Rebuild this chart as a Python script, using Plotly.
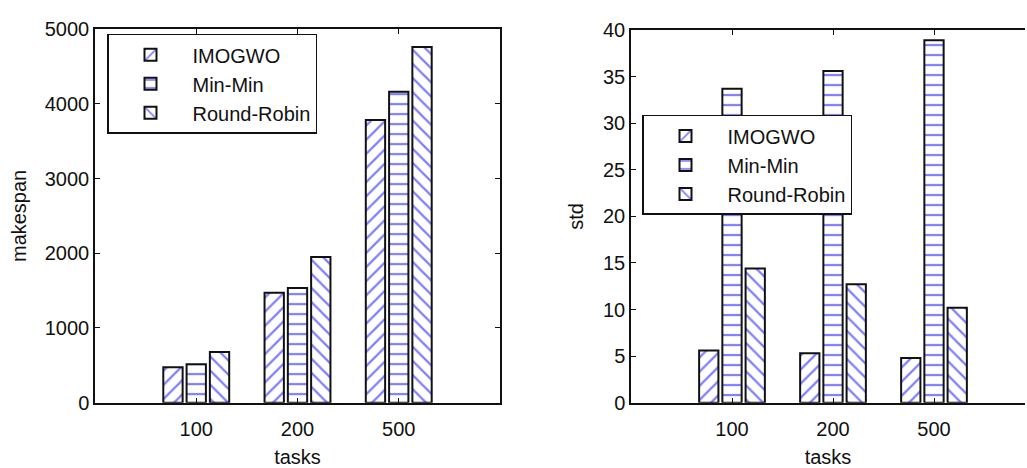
import plotly.graph_objects as go

tasks = ["100", "200", "500"]
series = ["IMOGWO", "Min-Min", "Round-Robin"]
makespan_imogwo = [475, 1470, 3785]
makespan_minmin = [515, 1535, 4160]
makespan_rr = [680, 1950, 4760]
std_imogwo = [5.6, 5.3, 4.8]
std_minmin = [33.7, 35.6, 38.9]
std_rr = [14.4, 12.7, 10.2]
makespan_ticks = [0, 1000, 2000, 3000, 4000, 5000]
std_ticks = [0, 5, 10, 15, 20, 25, 30, 35, 40]

shapes = ["/", "-", "\\"]
FONT = "Liberation Sans, Arial, sans-serif"
FS = 20
TXT = "#111"
xpos = [1, 2, 3]

fig = go.Figure()
left_vals = [makespan_imogwo, makespan_minmin, makespan_rr]
right_vals = [std_imogwo, std_minmin, std_rr]


def pattern(i):
    return dict(shape=shapes[i], fgcolor="#0000ff", bgcolor="white",
                size=10, solidity=0.22, fillmode="overlay")


for i, name in enumerate(series):
    fig.add_trace(go.Bar(x=xpos, y=left_vals[i], name=name, xaxis="x", yaxis="y",
                         marker=dict(color="white", line=dict(color="#111", width=2), pattern=pattern(i)),
                         legend="legend", legendgroup="L" + str(i)))
for i, name in enumerate(series):
    fig.add_trace(go.Bar(x=xpos, y=right_vals[i], name=name, xaxis="x2", yaxis="y2",
                         marker=dict(color="white", line=dict(color="#111", width=2), pattern=pattern(i)),
                         legend="legend2", legendgroup="R" + str(i)))

W, H = 1027, 468
axis_common = dict(showgrid=False, zeroline=False, showline=True, linecolor="#111", linewidth=1.5,
                   ticks="inside", ticklen=5, tickcolor="#111",
                   tickfont=dict(family=FONT, size=FS, color=TXT))
leg_common = dict(xanchor="left", yanchor="top", bordercolor="#111", borderwidth=1.5,
                  bgcolor="white", font=dict(family=FONT, size=FS, color=TXT), tracegroupgap=0,
                  itemwidth=74)

R_END = 0.998
fig.update_layout(
    width=W, height=H,
    margin=dict(l=0, r=0, t=0, b=0),
    paper_bgcolor="white", plot_bgcolor="white",
    font=dict(family=FONT, size=FS, color=TXT),
    barmode="group", bargap=0.31, bargroupgap=0.17,
    xaxis=dict(domain=[95 / W, 500 / W], range=[0, 4], tickmode="array", tickvals=xpos, ticktext=tasks,
               mirror="ticks", anchor="y", ticklabelstandoff=8,
               title=dict(text="tasks", standoff=12, font=dict(family=FONT, size=FS, color=TXT)), **axis_common),
    yaxis=dict(domain=[1 - 411 / H, 1 - 19 / H], range=[0, 5000], tickmode="array", tickvals=makespan_ticks,
               mirror="ticks", anchor="x",
               title=dict(text="makespan", standoff=13, font=dict(family=FONT, size=FS, color=TXT)), **axis_common),
    xaxis2=dict(domain=[631 / W, R_END], range=[0, (R_END * W - 631) / 101], tickmode="array", tickvals=xpos,
                ticktext=tasks, mirror="ticks", anchor="y2", ticklabelstandoff=8,
                title=dict(text="tasks", standoff=12, font=dict(family=FONT, size=FS, color=TXT)), **axis_common),
    yaxis2=dict(domain=[1 - 411 / H, 1 - 20 / H], range=[0, 40], tickmode="array", tickvals=std_ticks,
                mirror=False, anchor="x2",
                title=dict(text="std", standoff=14, font=dict(family=FONT, size=FS, color=TXT)), **axis_common),
    legend=dict(x=107 / W, y=1 - 24 / H, **leg_common),
    legend2=dict(x=642 / W, y=1 - 109 / H, **leg_common),
)

fig.write_html("out.html")
